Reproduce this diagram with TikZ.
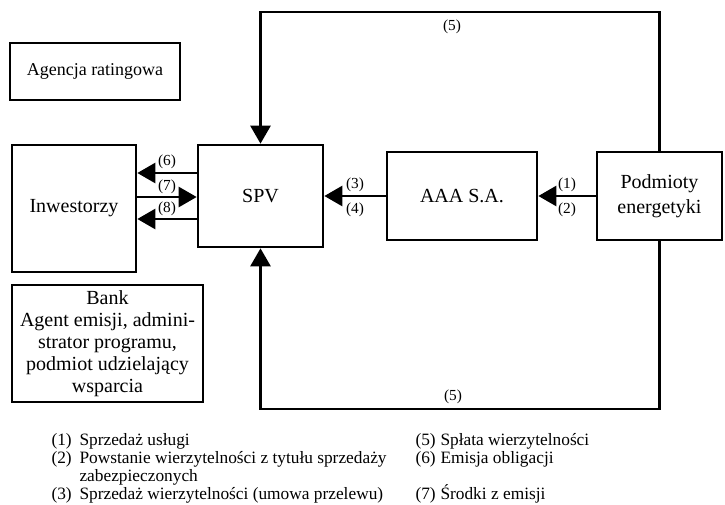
\documentclass[tikz,border=0pt]{standalone}
\usepackage{fontspec}
\setmainfont{Liberation Serif}
\usetikzlibrary{arrows.meta}

\tikzset{every picture/.style={line width=0.75pt}}
\tikzset{
  blok/.style={draw, line width=2pt, align=center, inner sep=0pt, font=\fontsize{15}{16.5}\selectfont},
  strz/.style={line width=2pt, -{Triangle[length=13.5pt,width=15pt]}},
  etyk/.style={inner sep=0.75pt, font=\fontsize{11.5}{13}\selectfont},
  legenda/.style={anchor=base west, inner sep=0pt, font=\fontsize{13}{13.5}\selectfont}
}

\begin{document}
\begin{tikzpicture}[x=0.75pt,y=0.75pt,yscale=-1,xscale=1]
\useasboundingbox (0,0) rectangle (725,504);

%Shape: Rectangle [id:agencja]
\draw (95,71.5) node [blok, minimum width=127.5pt, minimum height=42.75pt, font=\fontsize{13.5}{15}\selectfont] (agencja) {Agencja ratingowa};
%Shape: Rectangle [id:inw]
\draw (74,208.5) node [blok, minimum width=93pt, minimum height=95.25pt] (inw) {Inwestorzy};
%Shape: Rectangle [id:spv]
\draw (260.5,196) node [blok, minimum width=93.75pt, minimum height=76.5pt] (spv) {SPV};
%Shape: Rectangle [id:aaa]
\draw (462,196) node [blok, minimum width=112.5pt, minimum height=66pt] (aaa) {AAA S.A.};
%Shape: Rectangle [id:pod]
\draw (659.5,196) node [blok, minimum width=93.75pt, minimum height=66pt, font=\fontsize{15}{19}\selectfont] (pod) {Podmioty\\energetyki};
%Shape: Rectangle [id:bank]
\draw (107.5,343.5) node [blok, minimum width=143.25pt, minimum height=87.75pt] (bank) {Bank\\Agent emisji, admini-\\strator programu,\\podmiot udzielający\\wsparcia};

%Arrows Inwestorzy - SPV
\draw [strz] (spv.west |- 0,173) -- (inw.east |- 0,173);
\draw [strz] (inw.east |- 0,197) -- (spv.west |- 0,197);
\draw [strz] (spv.west |- 0,219) -- (inw.east |- 0,219);
%Arrows AAA - SPV, Podmioty - AAA
\draw [strz] (aaa.west) -- (spv.east);
\draw [strz] (pod.west) -- (aaa.east);
%Loops (5)
\draw [strz] (pod.north) -- (pod.north |- 0,12) -- (spv.north |- 0,12) -- (spv.north);
\draw [strz] (pod.south) -- (pod.south |- 0,409) -- (spv.south |- 0,409) -- (spv.south);

% Text Node
\draw (167,162) node [etyk] (e6) {(6)};
% Text Node
\draw (167,187) node [etyk] (e7) {(7)};
% Text Node
\draw (167,209) node [etyk] (e8) {(8)};
% Text Node
\draw (355,185) node [etyk] (e3) {(3)};
% Text Node
\draw (355,210) node [etyk] (e4) {(4)};
% Text Node
\draw (567,185) node [etyk] (e1) {(1)};
% Text Node
\draw (567,210) node [etyk] (e2) {(2)};
% Text Node
\draw (452,27) node [etyk] (e5a) {(5)};
% Text Node
\draw (453,397) node [etyk] (e5b) {(5)};

% Legend
\draw (51,445) node [legenda] (n1) {(1)};
\draw (79,445) node [legenda] (t1) {Sprzedaż usługi};
\draw (51,463) node [legenda] (n2) {(2)};
\draw (79,463) node [legenda] (t2) {Powstanie wierzytelności z tytułu sprzedaży};
\draw (79,481) node [legenda] (t2b) {zabezpieczonych};
\draw (51,499) node [legenda] (n3) {(3)};
\draw (79,499) node [legenda] (t3) {Sprzedaż wierzytelności (umowa przelewu)};
\draw (415,445) node [legenda] (n5) {(5)};
\draw (440,445) node [legenda] (t5) {Spłata wierzytelności};
\draw (415,463) node [legenda] (n6) {(6)};
\draw (440,463) node [legenda] (t6) {Emisja obligacji};
\draw (415,499) node [legenda] (n7) {(7)};
\draw (440,499) node [legenda] (t7) {Środki z emisji};

\end{tikzpicture}
\end{document}
